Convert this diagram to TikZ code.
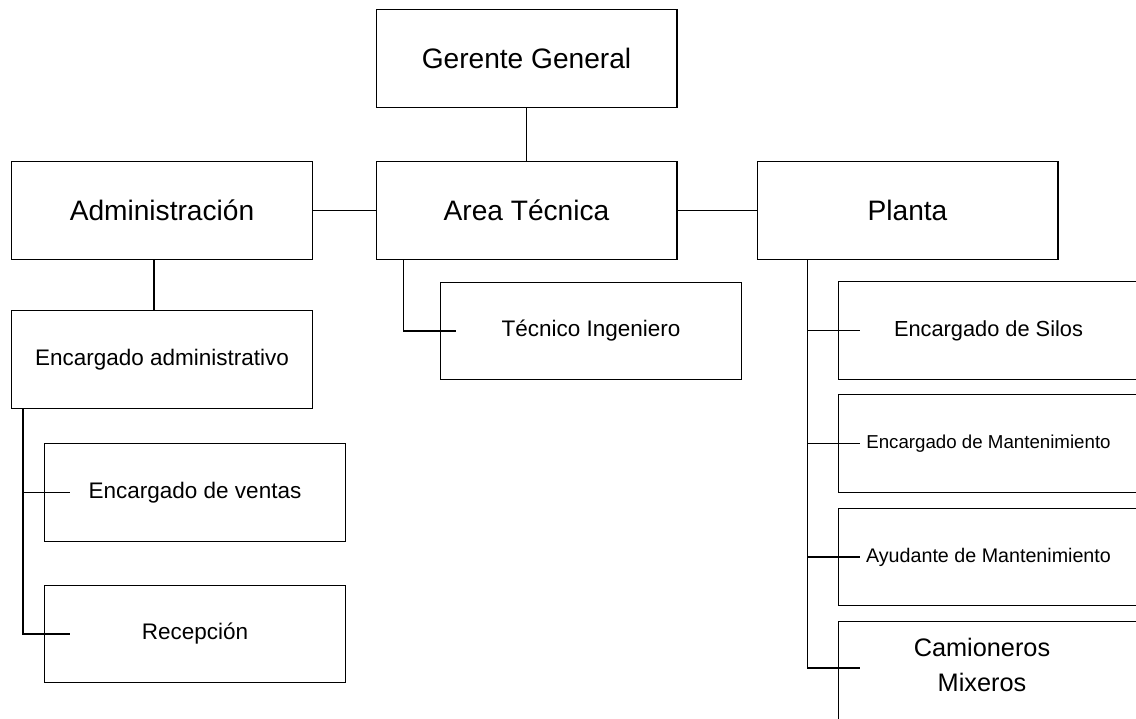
\documentclass[tikz,border=0pt]{standalone}
\usepackage{fontspec}
\setmainfont{Liberation Sans}
\usetikzlibrary{calc}

\tikzset{
	cargo/.style={draw, line width=0.8pt, minimum width=7.52cm, minimum height=2.43cm, inner sep=0pt, align=center},
	enlace/.style={line width=0.8pt}
}
\newcommand{\grande}{\fontsize{20}{24}\selectfont}
\newcommand{\medio}{\fontsize{16}{19}\selectfont}

\begin{document}
\begin{tikzpicture}[x=0.025cm, y=-0.025cm]
			%%%%% START %%%%%
			\clip (0, 0) rectangle (1136, 718);
			
			\node[cargo] (gerente) at (526.5, 58.5) {\grande Gerente General};
			
			\node[cargo] (admin) at (162, 210.5) {\grande Administración};
			\node[cargo] (area) at (526.5, 210.5) {\grande Area Técnica};
			\node[cargo] (planta) at (907.5, 210.5) {\grande Planta};
			
			\node[cargo] (encadm) at (162, 359.5) {\medio Encargado administrativo};
			\node[cargo] (ventas) at (195, 492.5) {\medio Encargado de ventas};
			\node[cargo] (recep) at (195, 634) {\medio Recepción};
			
			\node[cargo] (tecnico) at (591, 331) {\medio Técnico Ingeniero};
			
			\node[cargo] (silos) at (988.5, 330.5) {\fontsize{15.5}{18}\selectfont Encargado de Silos};
			\node[cargo] (encmant) at (988.5, 443.5) {\fontsize{13.3}{16}\selectfont Encargado de Mantenimiento};
			\node[cargo] (ayud) at (988.5, 557) {\fontsize{14}{17}\selectfont Ayudante de Mantenimiento};
			% la caja de camioneros sigue por debajo del borde
			\node[cargo, minimum height=3.5cm, anchor=north] (camion) at (988.5, 621) {};
			\node[font=\fontsize{18}{25}\selectfont, align=center] (camiontxt) at (982, 665) {Camioneros\\Mixeros};
			
			% primer nivel
			\draw[enlace] (gerente) -- (area);
			\draw[enlace] (admin) -- (area);
			\draw[enlace] (area) -- (planta);
			
			% administracion
			\draw[enlace] ($(admin.south)+(-8, 0)$) -- ($(encadm.north)+(-8, 0)$);
			\draw[enlace] ($(encadm.south west)+(12, 0)$) |- ($(ventas.west)+(26, 0)$);
			\draw[enlace] ($(encadm.south west)+(12, 0)$) |- ($(recep.west)+(26, 0)$);
			
			% area tecnica
			\draw[enlace] ($(area.south west)+(28, 0)$) |- ($(tecnico.west)+(16, 0)$);
			
			% planta
			\draw[enlace] ($(planta.south west)+(51, 0)$) |- ($(silos.west)+(22, 0)$);
			\draw[enlace] ($(planta.south west)+(51, 0)$) |- ($(encmant.west)+(22, 0)$);
			\draw[enlace] ($(planta.south west)+(51, 0)$) |- ($(ayud.west)+(22, 0)$);
			\draw[enlace] ($(planta.south west)+(51, 0)$) |- ($(camion.north west)+(22, 47)$);
			
			%%%%% END %%%%%
\end{tikzpicture}
\end{document}
